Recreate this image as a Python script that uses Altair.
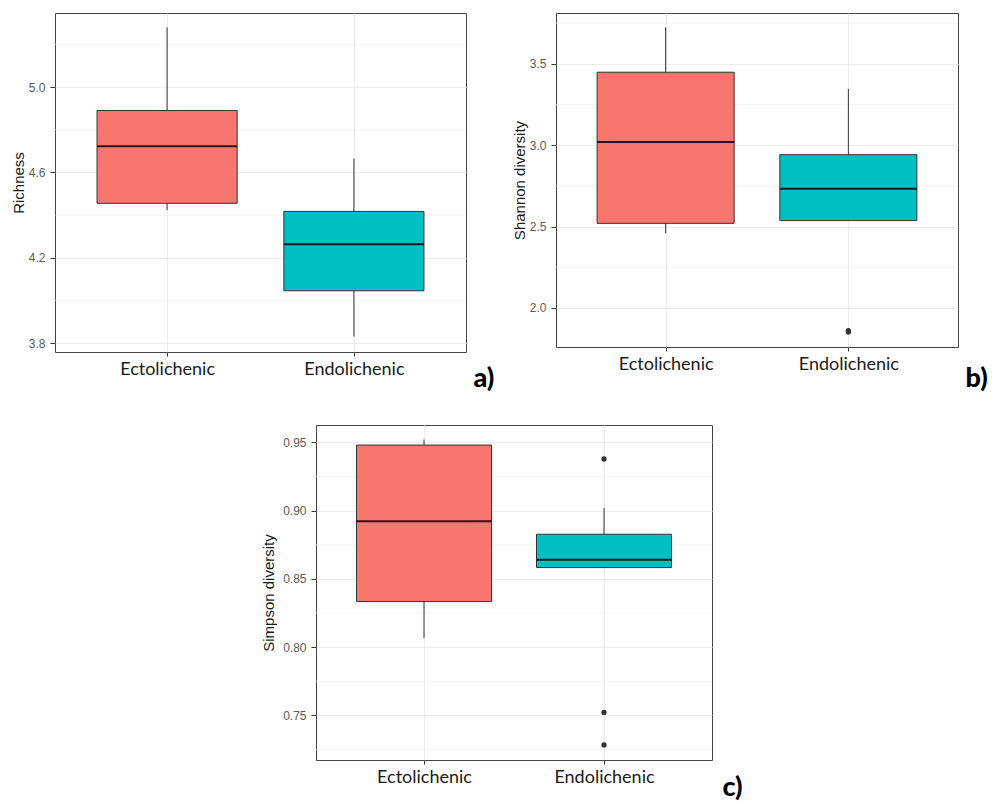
import altair as alt
import pandas as pd

# Sample groups and their fill colours
groups = ["Ectolichenic", "Endolichenic"]
fills = ["#F8766D", "#00BFC4"]

# Richness: five-number summaries per group
richness_lower = [4.423, 3.830]
richness_q1 = [4.455, 4.045]
richness_median = [4.723, 4.263]
richness_q3 = [4.890, 4.417]
richness_upper = [5.280, 4.664]
richness_outlier_group = []
richness_outlier_value = []

# Shannon diversity
shannon_lower = [2.459, 2.537]
shannon_q1 = [2.520, 2.537]
shannon_median = [3.020, 2.732]
shannon_q3 = [3.449, 2.942]
shannon_upper = [3.725, 3.346]
shannon_outlier_group = ["Endolichenic", "Endolichenic"]
shannon_outlier_value = [1.860, 1.852]

# Simpson diversity
simpson_lower = [0.8066, 0.8583]
simpson_q1 = [0.8334, 0.8583]
simpson_median = [0.8922, 0.8641]
simpson_q3 = [0.9480, 0.8827]
simpson_upper = [0.9520, 0.9020]
simpson_outlier_group = ["Endolichenic", "Endolichenic", "Endolichenic"]
simpson_outlier_value = [0.9378, 0.7522, 0.7284]

# Axis ticks (major labelled, minor grid only)
richness_major = [3.8, 4.2, 4.6, 5.0]
richness_minor = [4.0, 4.4, 4.8, 5.2]
shannon_major = [2.0, 2.5, 3.0, 3.5]
shannon_minor = [2.25, 2.75, 3.25, 3.75]
simpson_major = [0.75, 0.80, 0.85, 0.90, 0.95]
simpson_minor = [0.725, 0.775, 0.825, 0.875, 0.925]

GRID = "#EBEBEB"
INK = "#333333"


def boxpanel(ytitle, lower, q1, med, q3, upper, out_g, out_v, domain, major,
             minor, fmt, width, height, tag, tag_x, tag_y, title_pad=2):
    stats = pd.DataFrame({"group": groups, "lower": lower, "q1": q1,
                          "median": med, "q3": q3, "upper": upper})
    outs = pd.DataFrame({"group": out_g, "value": out_v})
    minors = pd.DataFrame({"v": minor})
    box_w = width / 2.2 * 0.75

    xenc = alt.X(
        "group:N", sort=groups,
        scale=alt.Scale(type="point", padding=0.6, domain=groups),
        axis=alt.Axis(
            title=tag, titleX=tag_x, titleY=tag_y, titleAlign="left",
            titleBaseline="alphabetic", titleFont="Lato", titleFontSize=27,
            titleFontWeight=900, titleColor="#000000", titleAnchor="start",
            labelAngle=0, labelFont="Lato", labelFontSize=18,
            labelColor="#1A1A1A", labelPadding=4, tickSize=4, tickColor=INK,
            domain=False, grid=True, gridColor=GRID, gridWidth=1,
        ),
    )
    yscale = alt.Scale(domain=domain, nice=False, zero=False)
    yaxis = alt.Axis(
        title=ytitle, values=major, format=fmt, titleFont="Liberation Sans",
        titleFontSize=15, titleFontWeight="normal", titleColor="#1A1A1A",
        titlePadding=title_pad, labelFont="Liberation Sans", labelFontSize=12,
        labelColor="#5A5A5A", labelPadding=5, tickSize=5, tickColor=INK,
        domain=False, grid=True, gridColor=GRID, gridWidth=1,
    )

    minor_grid = alt.Chart(minors).mark_rule(
        color=GRID, strokeWidth=0.6
    ).encode(y=alt.Y("v:Q", scale=yscale, axis=yaxis))

    whisk = alt.Chart(stats).mark_rule(color=INK, strokeWidth=1).encode(
        x=xenc,
        y=alt.Y("lower:Q", scale=yscale, axis=yaxis),
        y2="upper:Q",
    )
    box = alt.Chart(stats).mark_bar(
        size=box_w, stroke=INK, strokeWidth=1
    ).encode(
        x=xenc,
        y=alt.Y("q1:Q", scale=yscale, axis=yaxis),
        y2="q3:Q",
        color=alt.Color("group:N", scale=alt.Scale(domain=groups, range=fills),
                        legend=None),
    )
    median = alt.Chart(stats).mark_tick(
        size=box_w, thickness=2, color="#1A1A1A", opacity=1
    ).encode(x=xenc, y=alt.Y("median:Q", scale=yscale, axis=yaxis))

    layers = [minor_grid, whisk, box, median]
    if len(out_v):
        layers.append(
            alt.Chart(outs).mark_circle(size=28, color=INK, opacity=1).encode(
                x=xenc, y=alt.Y("value:Q", scale=yscale, axis=yaxis)
            )
        )
    return alt.layer(*layers).properties(width=width, height=height)


panel_a = boxpanel("Richness", richness_lower, richness_q1, richness_median,
                   richness_q3, richness_upper, richness_outlier_group,
                   richness_outlier_value, [3.758, 5.347], richness_major,
                   richness_minor, ".1f", 411, 339, "a)", 418, 34)
panel_b = boxpanel("Shannon diversity", shannon_lower, shannon_q1,
                   shannon_median, shannon_q3, shannon_upper,
                   shannon_outlier_group, shannon_outlier_value, [1.76, 3.813],
                   shannon_major, shannon_minor, ".1f", 402, 334, "b)", 409, 39)
panel_c = boxpanel("Simpson diversity", simpson_lower, simpson_q1,
                   simpson_median, simpson_q3, simpson_upper,
                   simpson_outlier_group, simpson_outlier_value,
                   [0.7174, 0.9627], simpson_major, simpson_minor, ".2f",
                   396, 335, "c)", 406, 35, title_pad=6)

# Empty left margin for the bottom row so panel c sits mid-page
gap = alt.Chart(pd.DataFrame({"v": [0]})).mark_point(opacity=0).properties(
    width=206, height=40, view=alt.ViewBackground(strokeOpacity=0)
)

top = alt.hconcat(panel_a, panel_b, spacing=16)
bottom = alt.hconcat(gap, panel_c, spacing=0)
chart = alt.vconcat(top, bottom, spacing=32).properties(
    padding={"left": 10, "top": 12, "right": 0, "bottom": 0},
    background="#FFFFFF",
).configure_view(stroke="#444444", strokeWidth=1)

chart.save("out.html", embed_options={"renderer": "svg", "actions": False})
